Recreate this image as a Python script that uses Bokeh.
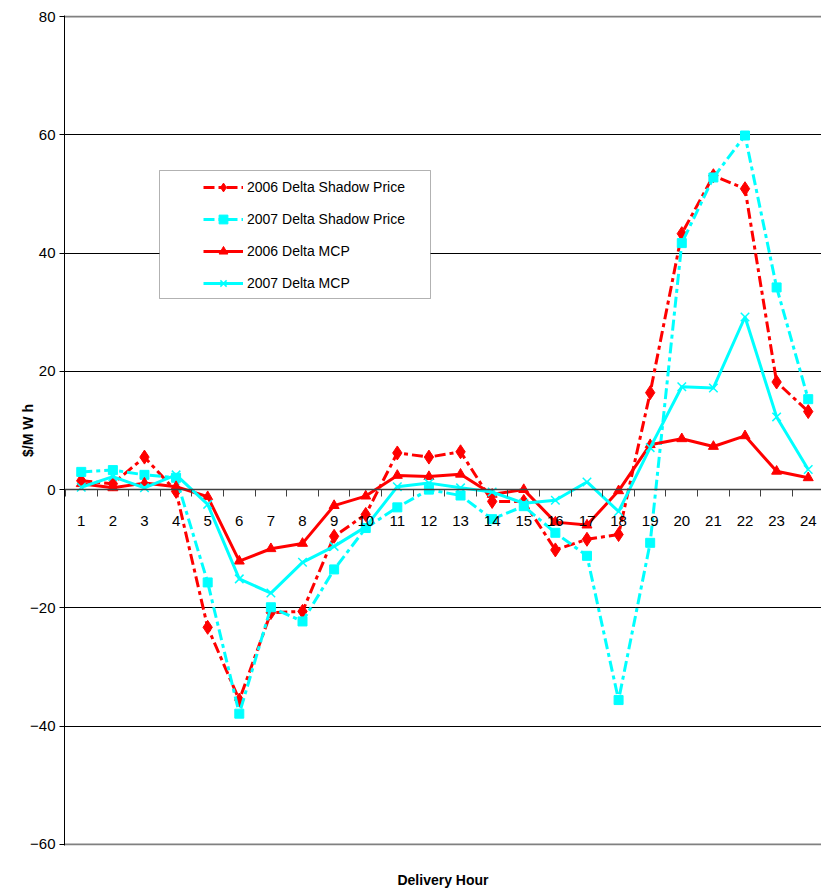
from bokeh.plotting import figure
from bokeh.models import (Range1d, FixedTicker, Grid, Legend, LegendItem,
                          BoxAnnotation, LinearAxis)
from bokeh.embed import file_html
from bokeh.resources import INLINE

# Delivery hours and hourly deltas ($/MWh)
hours = [1, 2, 3, 4, 5, 6, 7, 8, 9, 10, 11, 12,
         13, 14, 15, 16, 17, 18, 19, 20, 21, 22, 23, 24]

shadow_2006 = [1.5, 1.0, 5.5, -0.3, -23.3, -35.6, -20.8, -20.6, -7.9, -4.2, 6.2, 5.5,
               6.4, -2.0, -2.0, -10.2, -8.4, -7.6, 16.4, 43.3, 53.1, 50.9, 18.2, 13.2]
shadow_2007 = [3.0, 3.3, 2.5, 2.0, -15.7, -37.9, -19.9, -22.3, -13.5, -6.5, -3.0, 0.0,
               -1.0, -5.0, -2.8, -7.3, -11.2, -35.6, -9.0, 41.7, 52.8, 59.9, 34.2, 15.3]
mcp_2006 = [1.0, 0.3, 1.1, 0.5, -1.2, -12.1, -10.0, -9.1, -2.7, -1.1, 2.4, 2.2,
            2.6, -0.8, 0.0, -5.5, -6.0, -0.2, 7.6, 8.6, 7.3, 9.1, 3.1, 2.0]
mcp_2007 = [0.4, 2.2, 0.3, 2.5, -2.5, -15.1, -17.5, -12.3, -9.6, -6.3, 0.5, 1.1,
            0.3, -0.4, -2.3, -1.8, 1.3, -3.7, 7.1, 17.4, 17.2, 29.2, 12.3, 3.4]

y_ticks = [-60, -40, -20, 0, 20, 40, 60, 80]

series_names = ["2006 Delta Shadow Price", "2007 Delta Shadow Price",
                "2006 Delta MCP", "2007 Delta MCP"]

FONT = "Liberation Sans"
RED = "#FF0000"
CYAN = "#00FFFF"

p = figure(width=821, height=890, output_backend="svg", toolbar_location=None,
           x_range=Range1d(0.47, 24.42), y_range=Range1d(-60.2, 80.2),
           min_border_left=64, min_border_right=0,
           min_border_top=15, min_border_bottom=45)
p.outline_line_color = None
p.background_fill_color = "white"
p.border_fill_color = "white"

# horizontal gridlines: black inside, grey at the plot-area edges
p.xgrid.visible = False
p.ygrid.ticker = FixedTicker(ticks=[t for t in y_ticks if -60 < t < 80])
p.ygrid.grid_line_color = "black"
p.ygrid.grid_line_width = 1
edge_grid = Grid(dimension=1, ticker=FixedTicker(ticks=[y_ticks[0], y_ticks[-1]]),
                 grid_line_color="#808080", grid_line_width=2)
p.add_layout(edge_grid)

# value axis
yax = p.yaxis[0]
yax.ticker = FixedTicker(ticks=y_ticks)
yax.major_tick_out = 5
yax.major_tick_in = 0
yax.minor_tick_line_color = None
yax.axis_line_color = "black"
yax.major_tick_line_color = "black"
yax.major_label_text_font = FONT
yax.major_label_text_font_size = "15px"
yax.major_label_text_color = "black"
yax.major_label_standoff = 4
yax.axis_label = "$/M W h"
yax.axis_label_text_font = FONT
yax.axis_label_text_font_size = "14px"
yax.axis_label_text_font_style = "bold"
yax.axis_label_text_color = "black"
yax.axis_label_standoff = -9

# hour axis crossing at zero, ticks between hours
xax = p.xaxis[0]
xax.fixed_location = 0
xax.ticker = FixedTicker(ticks=hours, minor_ticks=[h - 0.5 for h in hours] + [hours[-1] + 0.5])
xax.major_tick_out = 0
xax.major_tick_in = 0
xax.minor_tick_out = 7
xax.minor_tick_in = 0
xax.minor_tick_line_color = "#404040"
xax.axis_line_color = "#404040"
xax.axis_line_width = 1.5
xax.major_label_text_font = FONT
xax.major_label_text_font_size = "15px"
xax.major_label_text_color = "black"
xax.major_label_standoff = 19

# hour axis title along the bottom edge of the plot area
title_axis = LinearAxis(ticker=FixedTicker(ticks=[]), axis_line_color=None,
                        major_tick_line_color=None, minor_tick_line_color=None,
                        major_tick_out=0, minor_tick_out=0, major_label_standoff=0,
                        axis_label="Delivery Hour", axis_label_standoff=26,
                        axis_label_text_font=FONT, axis_label_text_font_size="14px",
                        axis_label_text_font_style="bold", axis_label_text_color="black")
p.add_layout(title_axis, "below")

dash = "11 4 4 4"
l1 = p.line(hours, shadow_2006, line_color=RED, line_width=3, line_dash=dash)
m1 = p.scatter(hours, shadow_2006, marker="diamond", size=14, color=RED)
l2 = p.line(hours, shadow_2007, line_color=CYAN, line_width=3, line_dash=dash)
m2 = p.scatter(hours, shadow_2007, marker="square", size=9, color=CYAN)
l3 = p.line(hours, mcp_2006, line_color=RED, line_width=3)
m3 = p.scatter(hours, mcp_2006, marker="triangle", size=10, color=RED)
l4 = p.line(hours, mcp_2007, line_color=CYAN, line_width=3)
m4 = p.scatter(hours, mcp_2007, marker="x", size=12, line_color=CYAN, line_width=1.5)

# legend frame
box = BoxAnnotation(left=95, right=366, bottom=547, top=675,
                    left_units="screen", right_units="screen",
                    bottom_units="screen", top_units="screen",
                    fill_color="white", fill_alpha=1.0,
                    line_color="black", line_width=1)
p.add_layout(box)

legend = Legend(items=[LegendItem(label=series_names[0], renderers=[l1, m1]),
                       LegendItem(label=series_names[1], renderers=[l2, m2]),
                       LegendItem(label=series_names[2], renderers=[l3, m3]),
                       LegendItem(label=series_names[3], renderers=[l4, m4])],
                location=(139, 551), padding=6, spacing=10, margin=0,
                glyph_width=40, glyph_height=22, label_height=22,
                label_standoff=4, label_text_font=FONT,
                label_text_font_size="14px", label_text_color="black",
                border_line_color=None, background_fill_color="white",
                background_fill_alpha=1.0)
p.add_layout(legend)

open("out.html", "w").write(file_html(p, INLINE))
